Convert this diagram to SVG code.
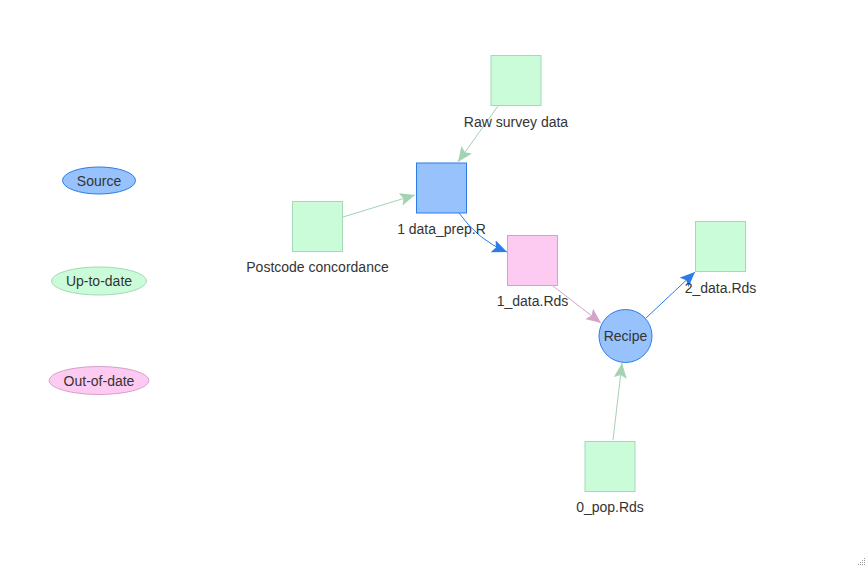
<svg xmlns="http://www.w3.org/2000/svg" width="868" height="568" viewBox="0 0 868 568">
<style>
text{font-family:"Liberation Sans",Arial,sans-serif;font-size:14px;fill:#343434;text-anchor:middle}
.src{fill:#97C2FC;stroke:#2B7CE9;stroke-width:1}
.ok{fill:#CBFCDA;stroke:#A3D9B5;stroke-width:1}
.old{fill:#FDCBF1;stroke:#D5A1CB;stroke-width:1}
.e{fill:none;stroke-width:1}
.eb{stroke:#2B7CE9}
.eg{stroke:#A3D3B3}
.ep{stroke:#D4A3C9}
</style>
<defs>
<marker id="ab" markerUnits="userSpaceOnUse" markerWidth="16" markerHeight="14" refX="15" refY="6.5" orient="auto"><path d="M0,0 L15,6.5 L0,13 L3,6.5 Z" fill="#2B7CE9"/></marker>
<marker id="ag" markerUnits="userSpaceOnUse" markerWidth="16" markerHeight="14" refX="15" refY="6.5" orient="auto"><path d="M0,0 L15,6.5 L0,13 L3,6.5 Z" fill="#A3D3B3"/></marker>
<marker id="ap" markerUnits="userSpaceOnUse" markerWidth="16" markerHeight="14" refX="15" refY="6.5" orient="auto"><path d="M0,0 L15,6.5 L0,13 L3,6.5 Z" fill="#D4A3C9"/></marker>
</defs>
<rect width="868" height="568" fill="#ffffff"/>
<g id="edges">
<path class="e eg" d="M498,106 L458,162" marker-end="url(#ag)"/>
<path class="e eg" d="M343,217 L415,195" marker-end="url(#ag)"/>
<path class="e eb" d="M459,213 Q478,240 507,252" marker-end="url(#ab)"/>
<path class="e ep" d="M553,286 L601,323" marker-end="url(#ap)"/>
<path class="e eb" d="M646,318 L695,272" marker-end="url(#ab)"/>
<path class="e eg" d="M613,440 L622,363" marker-end="url(#ag)"/>
</g>
<g id="legend-source"><ellipse class="src" cx="99" cy="180.5" rx="36.5" ry="13.5"/><text x="99" y="185.5">Source</text></g>
<g id="legend-uptodate"><ellipse class="ok" cx="99" cy="281" rx="47.5" ry="14"/><text x="99" y="286">Up-to-date</text></g>
<g id="legend-outofdate"><ellipse class="old" cx="99" cy="380.5" rx="50" ry="14"/><text x="99" y="385.5">Out-of-date</text></g>
<g id="raw-survey-data"><rect class="ok" x="491" y="55.5" width="50" height="50"/><text x="516" y="126.5">Raw survey data</text></g>
<g id="postcode-concordance"><rect class="ok" x="292.5" y="201.5" width="50" height="50"/><text x="317.5" y="272">Postcode concordance</text></g>
<g id="data-prep"><rect class="src" x="416.5" y="163" width="50" height="50"/><text x="441.5" y="234">1 data_prep.R</text></g>
<g id="data-1"><rect class="old" x="507.5" y="235.5" width="50" height="50"/><text x="532.5" y="306">1_data.Rds</text></g>
<g id="data-2"><rect class="ok" x="695.5" y="221.5" width="50" height="50"/><text x="720.5" y="292.5">2_data.Rds</text></g>
<g id="recipe"><circle class="src" cx="625.5" cy="336" r="26.5"/><text x="625.5" y="341">Recipe</text></g>
<g id="pop-0"><rect class="ok" x="585" y="441.5" width="50" height="50"/><text x="610" y="512">0_pop.Rds</text></g>
<g id="resize-grip" fill="#9a9a9a">
<rect x="864" y="558" width="1" height="1"/>
<rect x="862" y="560" width="1" height="1"/><rect x="864" y="560" width="1" height="1"/>
<rect x="860" y="562" width="1" height="1"/><rect x="862" y="562" width="1" height="1"/><rect x="864" y="562" width="1" height="1"/>
<rect x="858" y="564" width="1" height="1"/><rect x="860" y="564" width="1" height="1"/><rect x="862" y="564" width="1" height="1"/><rect x="864" y="564" width="1" height="1"/>
</g>
</svg>
